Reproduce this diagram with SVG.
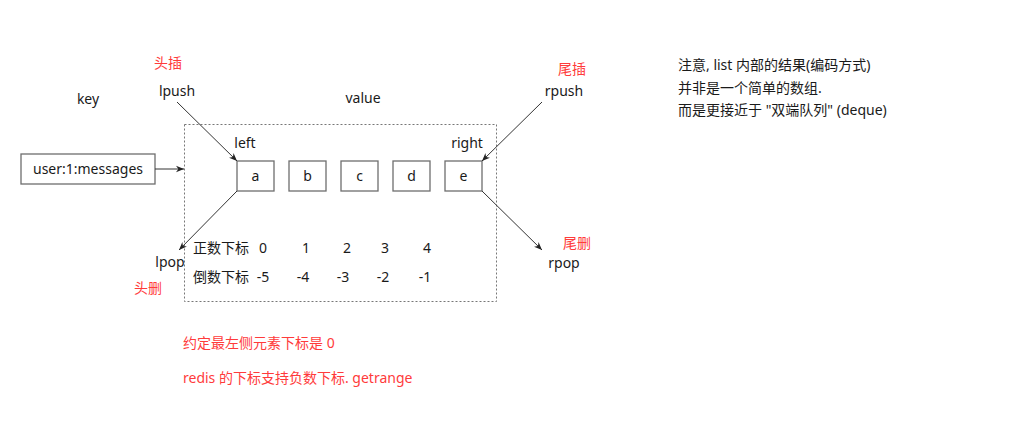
<svg xmlns="http://www.w3.org/2000/svg" width="1010" height="423" viewBox="0 0 1010 423">
<defs>
<style>
text{font-family:"Noto Sans","Noto Sans CJK SC",sans-serif;font-size:14px;fill:#1a1a1a}
.r{fill:#ff3b3b}
.m{text-anchor:middle}
.box{fill:#fff;stroke:#6e6e6e;stroke-width:1.3}
.ln{stroke:#333;stroke-width:1;fill:none}
</style>
<marker id="ah" viewBox="0 0 10 10" refX="10" refY="5" markerWidth="8" markerHeight="8" orient="auto-start-reverse" markerUnits="userSpaceOnUse">
<path d="M0,1 L10,5 L0,9 L3,5 z" fill="#222"/>
</marker>
</defs>
<rect width="1010" height="423" fill="#fff"/>
<g id="container">
<rect x="184.5" y="124.5" width="312" height="177" fill="none" stroke="#777" stroke-width="1" stroke-dasharray="2,2"/>
</g>
<g id="key">
<rect class="box" x="21" y="154" width="134" height="30"/>
<text class="m" x="88" y="174">user:1:messages</text>
</g>
<g id="node-a"><rect class="box" x="237" y="161" width="37" height="30"/><text class="m" x="255.5" y="181">a</text></g>
<g id="node-b"><rect class="box" x="289" y="161" width="37" height="30"/><text class="m" x="307.5" y="181">b</text></g>
<g id="node-c"><rect class="box" x="341" y="161" width="37" height="30"/><text class="m" x="359.5" y="181">c</text></g>
<g id="node-d"><rect class="box" x="393" y="161" width="37" height="30"/><text class="m" x="411.5" y="181">d</text></g>
<g id="node-e"><rect class="box" x="445" y="161" width="37" height="30"/><text class="m" x="463.5" y="181">e</text></g>
<g id="connectors">
<line class="ln" x1="155" y1="169" x2="184" y2="169" marker-end="url(#ah)"/>
<line class="ln" x1="177" y1="102" x2="237" y2="161" marker-end="url(#ah)"/>
<line class="ln" x1="542" y1="102" x2="482" y2="161" marker-end="url(#ah)"/>
<line class="ln" x1="237" y1="191" x2="179" y2="250" marker-end="url(#ah)"/>
<line class="ln" x1="482" y1="191" x2="542" y2="250" marker-end="url(#ah)"/>
</g>
<g id="labels">
<text class="m" x="88" y="104">key</text>
<text class="m" x="363" y="103">value</text>
<text class="m r" x="168" y="68">头插</text>
<text class="m" x="177" y="96">lpush</text>
<text class="m r" x="572" y="74">尾插</text>
<text class="m" x="564" y="96">rpush</text>
<text class="m" x="245" y="148">left</text>
<text class="m" x="467" y="148">right</text>
<text class="m" x="170" y="267">lpop</text>
<text class="m r" x="148" y="293">头删</text>
<text class="m r" x="577" y="248">尾删</text>
<text class="m" x="564" y="268">rpop</text>
</g>
<g id="indices">
<text x="193" y="253">正数下标</text>
<text class="m" x="263" y="253">0</text>
<text class="m" x="306" y="253">1</text>
<text class="m" x="347" y="253">2</text>
<text class="m" x="385" y="253">3</text>
<text class="m" x="427" y="253">4</text>
<text x="193" y="282">倒数下标</text>
<text class="m" x="263" y="282">-5</text>
<text class="m" x="303" y="282">-4</text>
<text class="m" x="343" y="282">-3</text>
<text class="m" x="383" y="282">-2</text>
<text class="m" x="425" y="282">-1</text>
</g>
<g id="notes">
<text class="r" x="183" y="348">约定最左侧元素下标是 0</text>
<text class="r" x="183" y="383">redis 的下标支持负数下标. getrange</text>
<text x="678" y="70">注意, list 内部的结果(编码方式)</text>
<text x="678" y="93">并非是一个简单的数组.</text>
<text x="678" y="115">而是更接近于 "双端队列" (deque)</text>
</g>
</svg>
